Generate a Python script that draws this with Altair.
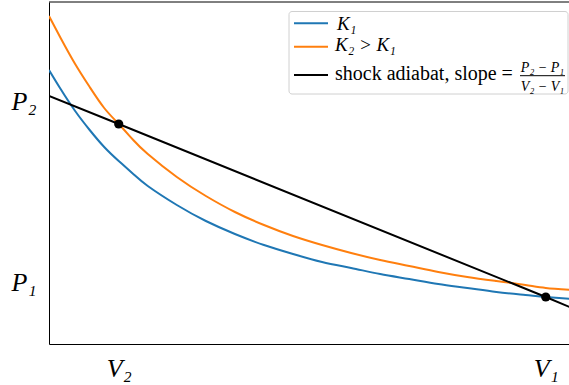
import altair as alt
import pandas as pd

# ---- data ----
V = [0.76, 0.80, 0.85, 0.90, 0.95, 1.00, 1.05, 1.10, 1.20, 1.30, 1.40, 1.50,
     1.60, 1.70, 1.80, 1.90, 2.00, 2.10, 2.20, 2.30, 2.40, 2.47, 2.56]
P_K1 = [2.74, 2.55, 2.33, 2.14, 1.97, 1.83, 1.70, 1.58, 1.39, 1.23, 1.10, 0.99,
        0.90, 0.82, 0.76, 0.70, 0.65, 0.60, 0.56, 0.52, 0.49, 0.47, 0.45]
P_K2 = [3.28, 3.06, 2.80, 2.57, 2.36, 2.20, 2.04, 1.90, 1.67, 1.48, 1.32, 1.19,
        1.08, 0.99, 0.91, 0.84, 0.78, 0.72, 0.67, 0.63, 0.59, 0.56, 0.54]
shock_V = [0.76, 1.00, 2.47, 2.56]
shock_P = [2.48, 2.20, 0.47, 0.36]
states_V = [1.00, 2.47]
states_P = [2.20, 0.47]
x_ticks = [1.00, 2.47]
x_tick_labels = ["V₂", "V₁"]
y_ticks = [0.62, 2.43]
y_tick_labels = ["P₁", "P₂"]

series_names = ["K1", "K2", "shock"]
series_colors = ["#1f77b4", "#ff7f0e", "#000000"]

curves_df = pd.DataFrame({
    "V": V + V,
    "P": P_K1 + P_K2,
    "s": ["K1"] * len(V) + ["K2"] * len(V),
})
shock_df = pd.DataFrame({"V": shock_V, "P": shock_P, "s": ["shock"] * len(shock_V)})
pts_df = pd.DataFrame({"V": states_V, "P": states_P})

W, H = 520, 342
SERIF = "'Liberation Serif', 'DejaVu Serif', serif"

xscale = alt.Scale(domain=[0.76, 2.55], nice=False, zero=False)
yscale = alt.Scale(domain=[0, 3.42], nice=False, zero=False)
cscale = alt.Scale(domain=series_names, range=series_colors)

xlab_expr = "datum.value < 1.5 ? '%s' : '%s'" % (x_tick_labels[0], x_tick_labels[1])
ylab_expr = "datum.value < 1.5 ? '%s' : '%s'" % (y_tick_labels[0], y_tick_labels[1])

xaxis = alt.Axis(values=x_ticks, labelExpr=xlab_expr, ticks=False, tickSize=0, grid=False,
                 domainColor="black", domainWidth=1, labelFont=SERIF, labelFontSize=26,
                 labelFontStyle="italic", labelColor="black", labelPadding=11, title=None,
                 labelFlush=False, labelBaseline="top")
yaxis = alt.Axis(values=y_ticks, labelExpr=ylab_expr, ticks=False, tickSize=0, grid=False,
                 domainColor="black", domainWidth=1, labelFont=SERIF, labelFontSize=26,
                 labelFontStyle="italic", labelColor="black", labelPadding=13, title=None,
                 labelFlush=False, labelBaseline="middle")

curves = alt.Chart(curves_df).mark_line(strokeWidth=2, clip=True, interpolate="natural").encode(
    x=alt.X("V:Q", scale=xscale, axis=xaxis),
    y=alt.Y("P:Q", scale=yscale, axis=yaxis),
    color=alt.Color("s:N", scale=cscale, legend=None),
)

shock = alt.Chart(shock_df).mark_line(strokeWidth=2, clip=True).encode(
    x=alt.X("V:Q", scale=xscale),
    y=alt.Y("P:Q", scale=yscale),
    color=alt.Color("s:N", scale=cscale, legend=None),
)

points = alt.Chart(pts_df).mark_circle(size=85, color="black", opacity=1).encode(
    x=alt.X("V:Q", scale=xscale),
    y=alt.Y("P:Q", scale=yscale),
)

one = pd.DataFrame({"a": [0]})
top_spine = alt.Chart(one).mark_rule(color="black", strokeWidth=1).encode(
    x=alt.value(0), x2=alt.value(W), y=alt.value(0))

legend_box = alt.Chart(one).mark_rect(fill="white", stroke="#cccccc", strokeWidth=1,
                                      cornerRadius=3, opacity=0.9).encode(
    x=alt.value(240), x2=alt.value(519), y=alt.value(9.5), y2=alt.value(92))

def sym(y, color):
    return alt.Chart(one).mark_rule(color=color, strokeWidth=2).encode(
        x=alt.value(245), x2=alt.value(279), y=alt.value(y))

def txt(t, x, y, size, style="normal", align="left"):
    return alt.Chart(pd.DataFrame({"t": [t]})).mark_text(
        font=SERIF, fontSize=size, fontStyle=style, align=align, baseline="alphabetic",
        color="black").encode(x=alt.value(x), y=alt.value(y), text="t:N")

frac_bar = alt.Chart(one).mark_rule(color="black", strokeWidth=1).encode(
    x=alt.value(471), x2=alt.value(516), y=alt.value(73.7))

legend = [
    legend_box,
    sym(21.3, series_colors[0]), sym(44.7, series_colors[1]), sym(73, series_colors[2]),
    txt("K₁", 288, 28, 19, "italic"),
    txt("K₂ > K₁", 286, 49, 19, "italic"),
    txt("shock adiabat, slope =", 286, 78, 20),
    txt("P₂ − P₁", 493.5, 70, 14, "italic", "center"),
    frac_bar,
    txt("V₂ − V₁", 493.5, 89, 14, "italic", "center"),
]

chart = alt.layer(curves, shock, points, top_spine, *legend).properties(
    width=W, height=H,
    padding={"left": 49, "top": 2, "right": 0, "bottom": 41},
    autosize=alt.AutoSizeParams(type="none"),
    background="white",
).configure_view(stroke=None)

chart.save("out.html", embed_options={"renderer": "svg", "actions": False})
